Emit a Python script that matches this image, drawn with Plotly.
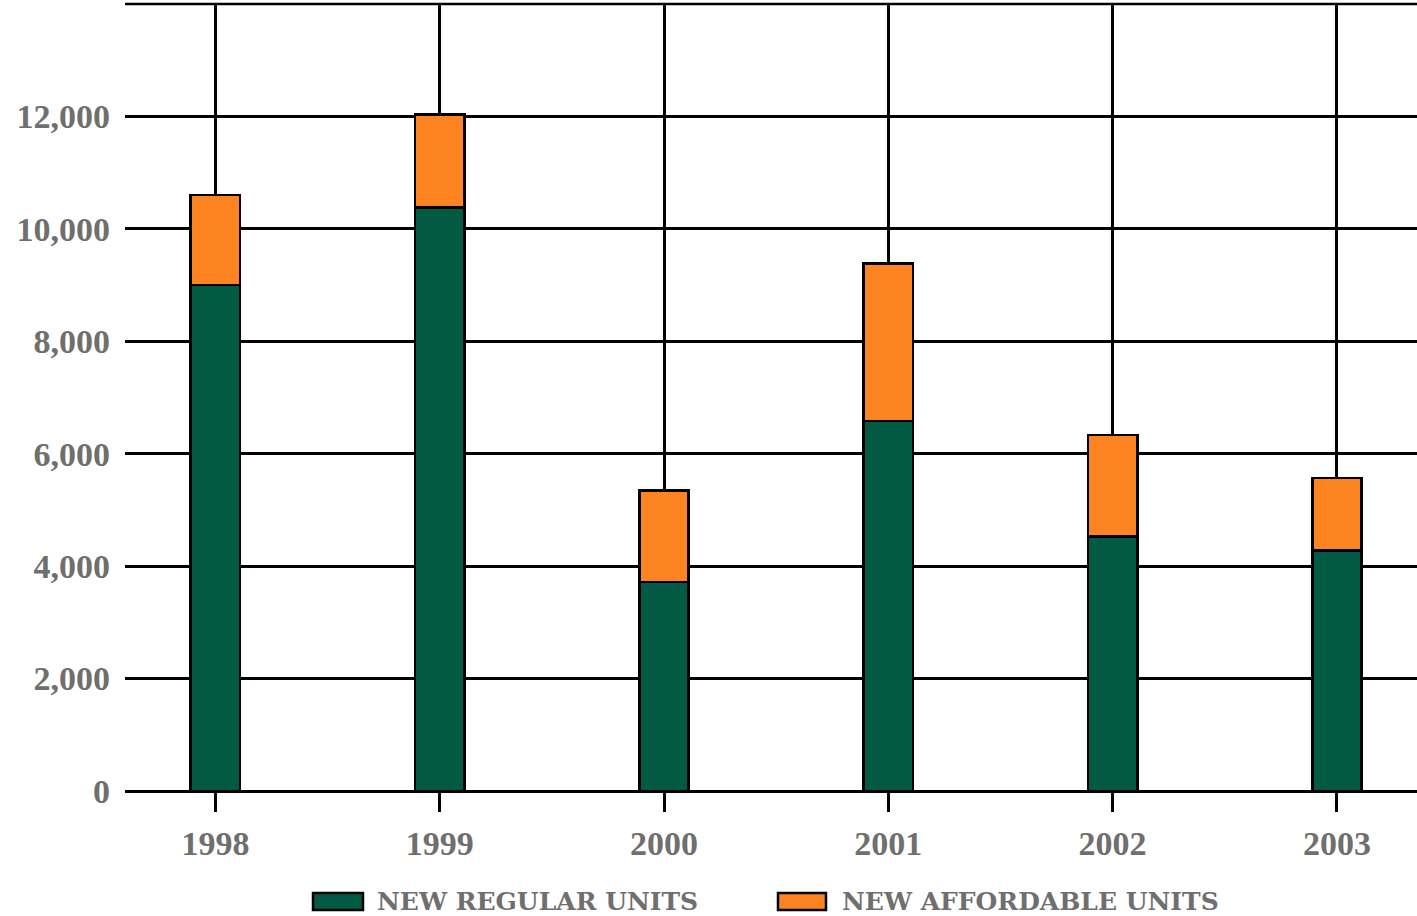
import plotly.graph_objects as go

# Housing completions by year
years = ["1998", "1999", "2000", "2001", "2002", "2003"]
regular_units = [9000, 10380, 3720, 6580, 4530, 4280]
affordable_units = [1600, 1650, 1630, 2800, 1800, 1290]
y_ticks = [0, 2000, 4000, 6000, 8000, 10000, 12000]

GREEN = "#035a44"
ORANGE = "#fd8420"
GRAY = "#6f6f6f"
FONT = "Liberation Serif"
LEGEND_FONT = "DejaVu Serif"

W, H = 1417, 916
M_L, M_R, M_T, M_B = 125, 0, 4, 125
PLOT_W = W - M_L - M_R
PLOT_H = H - M_T - M_B


def px_x(px):
    return (px - M_L) / PLOT_W


def px_y(py):
    return (H - M_B - py) / PLOT_H


fig = go.Figure()
fig.add_trace(go.Bar(
    x=years, y=regular_units, name="NEW REGULAR UNITS",
    marker=dict(color=GREEN, line=dict(color="black", width=2.5)),
    width=0.22,
))
fig.add_trace(go.Bar(
    x=years, y=affordable_units, name="NEW AFFORDABLE UNITS",
    marker=dict(color=ORANGE, line=dict(color="black", width=2.5)),
    width=0.22,
))

# top border of the plot area
fig.add_shape(type="line", xref="paper", yref="paper", x0=0, x1=1, y0=1, y1=1,
              line=dict(color="black", width=2.5))

# hand-built legend with wide swatches
legend_items = [("NEW REGULAR UNITS", GREEN, 313, 363, 378),
                ("NEW AFFORDABLE UNITS", ORANGE, 778, 826, 843)]
for label, color, sx0, sx1, tx in legend_items:
    fig.add_shape(type="rect", xref="paper", yref="paper",
                  x0=px_x(sx0), x1=px_x(sx1), y0=px_y(910), y1=px_y(893),
                  fillcolor=color, line=dict(color="black", width=2.5))
    fig.add_annotation(xref="paper", yref="paper", x=px_x(tx - 3), y=px_y(901),
                       xanchor="left", yanchor="middle", showarrow=False,
                       text=label,
                       font=dict(family=LEGEND_FONT, size=25, color=GRAY, weight="bold"))

fig.update_layout(
    width=W, height=H,
    margin=dict(l=M_L, r=M_R, t=M_T, b=M_B),
    barmode="stack",
    showlegend=False,
    plot_bgcolor="white", paper_bgcolor="white",
    font=dict(family=FONT, color=GRAY, size=34, weight="bold"),
)
fig.update_xaxes(
    type="category", range=[-0.403, 5.357],
    showgrid=True, gridcolor="black", gridwidth=2.5,
    ticks="outside", ticklen=20, tickwidth=2.5, tickcolor="black",
    ticklabelstandoff=2,
    tickfont=dict(family=FONT, size=34, color=GRAY, weight="bold"),
    showline=False, zeroline=False,
)
fig.update_yaxes(
    range=[0, 14000], tickvals=y_ticks, tickformat=",d",
    showgrid=True, gridcolor="black", gridwidth=2.5,
    zeroline=True, zerolinecolor="black", zerolinewidth=2.5,
    ticks="", ticklabelstandoff=14,
    tickfont=dict(family=FONT, size=34, color=GRAY, weight="bold"),
    showline=False,
)

fig.write_html("out.html")
